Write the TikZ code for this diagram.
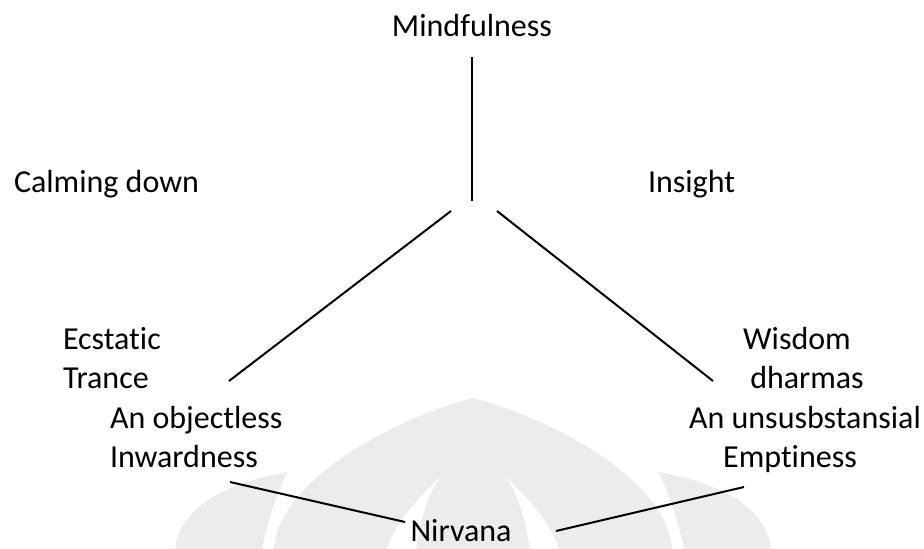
\documentclass[tikz,border=0pt]{standalone}
\usepackage{fontspec}
\setmainfont{Carlito}[Ligatures=NoCommon,Contextuals=NoAlternate]

\begin{document}
\begin{tikzpicture}[x=1bp,y=-1bp,line width=2bp,
      word/.style={inner sep=0pt,font=\fontsize{32bp}{38bp}\selectfont},
      seal/.style={fill=gray!15,draw=none}]
      \useasboundingbox (0,0) rectangle (924,549);

      %% THE FAINT SEAL BEHIND EVERYTHING
      \fill[seal] (274,549) .. controls (278,480) and (395,418) .. (473,398)
            .. controls (551,418) and (668,480) .. (672,549) -- cycle;
      \fill[white] (440,477) .. controls (422,495) and (396,520) .. (387,549)
            -- (416,549) .. controls (420,520) and (428,495) .. cycle;
      \fill[white] (506,477) .. controls (524,495) and (550,520) .. (559,549)
            -- (530,549) .. controls (526,520) and (518,495) .. cycle;
      \fill[seal] (288,472) .. controls (230,482) and (180,505) .. (175,549)
            -- (262,549) .. controls (268,520) and (278,490) .. cycle;
      \fill[seal] (658,472) .. controls (716,482) and (766,505) .. (771,549)
            -- (684,549) .. controls (678,520) and (668,490) .. cycle;

      %% THESE ARE THE NODES
      \node[word,anchor=base] (mind) at (472,37) {Mindfulness};
      \node[word,anchor=base west] (calm) at (13,193) {Calming down};
      \node[word,anchor=base west] (insight) at (647,193) {Insight};
      \node[word,anchor=base west] (ecstatic) at (62,350) {Ecstatic};
      \node[word,anchor=base west] (trance) at (62,388) {Trance};
      \node[word,anchor=base west] (objectless) at (109,428) {An objectless};
      \node[word,anchor=base west] (inward) at (109,467) {Inwardness};
      \node[word,anchor=base] (wisdom) at (797,350) {Wisdom};
      \node[word,anchor=base] (dharmas) at (807,388) {dharmas};
      \node[word,anchor=base] (unsub) at (805,428) {An unsusbstansial};
      \node[word,anchor=base] (empty) at (790,467) {Emptiness};
      \node[word,anchor=base] (nirvana) at (461,541) {Nirvana};

      %% THESE ARE THE LINE ENDS
      \coordinate (stem top) at (472,57);
      \coordinate (fork) at (472,201);
      \coordinate (left arm) at (451,211);
      \coordinate (left hand) at (229,381);
      \coordinate (right arm) at (497,211);
      \coordinate (right hand) at (713,381);
      \coordinate (left foot) at (230,482);
      \coordinate (left toe) at (405,522);
      \coordinate (right foot) at (744,487);
      \coordinate (right toe) at (556,531);

      %% THESE ARE THE LINES
      \draw (stem top) -- (fork);
      \draw (left arm) -- (left hand);
      \draw (right arm) -- (right hand);
      \draw (left foot) -- (left toe);
      \draw (right foot) -- (right toe);
\end{tikzpicture}
\end{document}
